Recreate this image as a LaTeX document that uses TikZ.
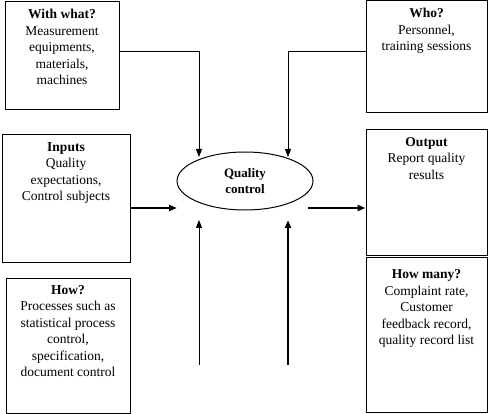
\documentclass[tikz,border=0pt]{standalone}
\usepackage{fontspec}
\setmainfont{Liberation Serif}
\usetikzlibrary{arrows.meta,shapes.geometric,positioning}
\begin{document}
\begin{tikzpicture}[x=1pt,y=-1pt,
  box/.style={draw,line width=1pt,inner sep=0pt},
  txt/.style={anchor=north,align=center,inner sep=0pt,font=\fontsize{13.5}{16.5}\selectfont},
  thinarr/.style={line width=1pt,-{Triangle[length=8pt,width=6pt]}},
  thickarr/.style={line width=2pt,-{Triangle[length=8pt,width=6pt]}},
  ttl/.style={font=\bfseries}]
\useasboundingbox (0,0) rectangle (490,414);
% boxes
\node[box,minimum width=114pt,minimum height=108pt] (ww) at (62,56) {};
\node[box,minimum width=128pt,minimum height=127pt] (inp) at (66,198.5) {};
\node[box,minimum width=124pt,minimum height=135pt] (how) at (68,345.5) {};
\node[box,minimum width=121pt,minimum height=112pt] (who) at (426.5,57) {};
\node[box,minimum width=121pt,minimum height=126pt] (out) at (426.5,193) {};
\node[box,minimum width=121pt,minimum height=154pt] (hm) at (426.5,335) {};
% texts
\node[txt,below=7.5pt of ww.north] (wwt) {\textbf{With what?}\\Measurement\\equipments,\\materials,\\machines};
\node[txt,below=7.5pt of inp.north] (inpt) {\textbf{Inputs}\\Quality\\expectations,\\Control subjects};
\node[txt,below=7.5pt of how.north] (howt) {\textbf{How?}\\Processes such as\\statistical process\\control,\\specification,\\document control};
\node[txt,below=7.5pt of who.north] (whot) {\textbf{Who?}\\Personnel,\\training sessions};
\node[txt,below=7.5pt of out.north] (outt) {\textbf{Output}\\Report quality\\results};
\node[txt,below=12pt of hm.north] (hmt) {\textbf{How many?}\\Complaint rate,\\Customer\\feedback record,\\quality record list};
% ellipse
\node[draw,ellipse,line width=1pt,minimum width=136pt,minimum height=58pt,inner sep=0pt,align=center,
  font=\fontsize{13}{16}\selectfont\bfseries] (qc) at (245,181) {Quality\\control};
% coordinates
\coordinate (wwend) at (199,157);
\coordinate (whoend) at (288,157);
\coordinate (inend) at (177,208);
\coordinate (outstart) at (308,208);
\coordinate (b1s) at (199,365);
\coordinate (b1e) at (199,220);
\coordinate (b2s) at (288,365);
\coordinate (b2e) at (288,220);
% connectors
\draw[thinarr] (ww.east |- 0,52) -| (wwend);
\draw[thinarr] (who.west |- 0,52) -| (whoend);
\draw[thickarr] (inp.east |- inend) -- (inend);
\draw[thickarr] (outstart) -- (out.west |- outstart);
\draw[thinarr] (b1s) -- (b1e);
\draw[thickarr] (b2s) -- (b2e);
\end{tikzpicture}
\end{document}
